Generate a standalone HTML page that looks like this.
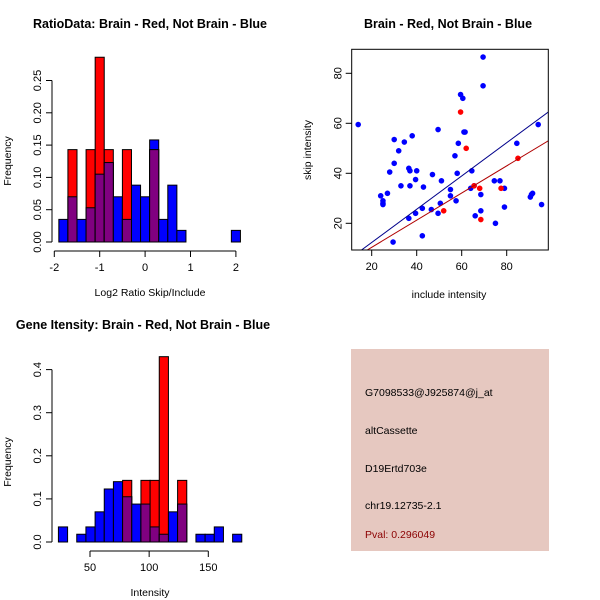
<!DOCTYPE html>
<html><head><meta charset="utf-8"><style>
html,body{margin:0;padding:0;background:#fff}
svg{display:block;font-family:"Liberation Sans",sans-serif}
</style></head><body>
<svg id="c" width="600" height="600" viewBox="0 0 600 600">
<rect width="600" height="600" fill="#fff"/>
<text x="150" y="28" text-anchor="middle" font-size="12.5" font-weight="bold">RatioData: Brain - Red, Not Brain - Blue</text>
<text x="448" y="28" text-anchor="middle" font-size="12.5" font-weight="bold">Brain - Red, Not Brain - Blue</text>
<text x="143" y="329" text-anchor="middle" font-size="12.5" font-weight="bold">Gene Itensity: Brain - Red, Not Brain - Blue</text>
<g id="h1"></g>
<g id="h2"></g>
<g id="sc"></g>
<g>
<rect x="351" y="349" width="198" height="202" fill="#e6c8c0"/>
<text x="365" y="396" font-size="10.5" fill="#000">G7098533@J925874@j_at</text>
<text x="365" y="434" font-size="10.5" fill="#000">altCassette</text>
<text x="365" y="472" font-size="10.5" fill="#000">D19Ertd703e</text>
<text x="365" y="509" font-size="10.5" fill="#000">chr19.12735-2.1</text>
<text x="365" y="538" font-size="10.5" fill="#8b0000">Pval: 0.296049</text>
</g>
</svg>
<script>
// ratio histogram data
const ratioBinStart = -1.9;
const ratioBinWidth = 0.2;
const ratioBlue = [0.035,0.07,0.035,0.053,0.105,0.123,0.07,0.035,0.088,0.07,0.158,0.035,0.088,0.018,0,0,0,0,0,0.018];
const ratioRed  = [0,0.143,0,0.143,0.286,0.143,0,0.143,0,0,0.143,0,0,0,0,0,0,0,0,0];
const ratioXTicks = [-2,-1,0,1,2];
const ratioYTicks = ["0.00","0.05","0.10","0.15","0.20","0.25"];
// intensity histogram data
const intBinStart = 23.3;
const intBinWidth = 7.75;
const intBlue = [0.035,0,0.018,0.035,0.07,0.123,0.14,0.105,0.088,0.088,0.035,0.018,0.07,0.088,0,0.018,0.018,0.035,0,0.018];
const intRed  = [0,0,0,0,0,0,0,0.143,0,0.143,0.143,0.43,0,0.143,0,0,0,0,0,0];
const intXTicks = [50,100,150];
const intYTicks = ["0.0","0.1","0.2","0.3","0.4"];
// scatter data
const blueX = [14,24,25,25,25,27,28,29.5,30,30,32,33,34.5,36.5,37,36.5,37,38,39.5,40,39.5,42.5,43,42.5,46.5,47,49.5,49.5,50.5,51,55,55,57,57.5,58,58.5,59.5,60.5,61,61.5,64,64.5,65.5,66,68.5,68.5,69.5,69.5,74.5,75,77,79,79,84.5,90.5,91,91.5,94,95.5];
const blueY = [59.5,31,29,28,27.5,32,40.5,12.5,53.5,44,49,35,52.5,42,41,22,35,55,37.5,41,24,15,34.5,26,25.5,39.5,57.5,24,28,37,33.5,31,47,29,40,52,71.5,70,56.5,56.5,34,41,35,23,31.5,25,86.5,75,37,20,37,34,26.5,52,30.5,31.5,32,59.5,27.5];
const redX = [59.5,62,52,65.5,68,68.5,77.5,85];
const redY = [64.5,50,25,35,34,21.5,34,46];
const blueFit = [-0.97,0.665];
const redFit = [-0.47,0.543];
const scXTicks = [20,40,60,80];
const scYTicks = [20,40,60,80];

const NS="http://www.w3.org/2000/svg";
function mk(parent,tag,attrs){const e=document.createElementNS(NS,tag);for(const k in attrs)e.setAttribute(k,attrs[k]);parent.appendChild(e);return e;}

function hist(g,o){
  const sx=v=>o.x0px+(v-o.x0)*o.kx, sy=v=>o.y0px-v*o.ky;
  for(let i=0;i<o.blue.length;i++){
    const a=o.binStart+i*o.binW, b=a+o.binW, bl=o.blue[i], rd=o.red[i];
    const x=sx(a), w=sx(b)-sx(a);
    if(bl>0){const r=mk(g,'rect',{x:x,y:sy(bl),width:w,height:sy(0)-sy(bl),fill:'#0000ff',stroke:'#000','stroke-width':1});
      
      }
    if(rd>0){const r=mk(g,'rect',{x:x,y:sy(rd),width:w,height:sy(0)-sy(rd),fill:'#ff0000',stroke:'#000','stroke-width':1});
      
      }
    if(rd>0&&bl>0){const m=Math.min(rd,bl);const r=mk(g,'rect',{x:x,y:sy(m),width:w,height:sy(0)-sy(m),fill:'#800080',stroke:'#000','stroke-width':1});
      
      }
  }
  const yv=o.yTicks.map(Number);
  mk(g,'line',{x1:o.yAxisX,x2:o.yAxisX,y1:sy(yv[0]),y2:sy(yv[yv.length-1]),stroke:'#000'});
  o.yTicks.forEach((t,i)=>{const y=sy(yv[i]);mk(g,'line',{x1:o.yAxisX-6,x2:o.yAxisX,y1:y,y2:y,stroke:'#000'});
    const tx=mk(g,'text',{x:0,y:0,'font-size':11,'text-anchor':'middle',transform:`translate(${o.yAxisX-11},${y}) rotate(-90)`});tx.textContent=t;
    
    });
  const ax=o.xAxisY;
  mk(g,'line',{x1:sx(o.xTicks[0]),x2:sx(o.xTicks[o.xTicks.length-1]),y1:ax,y2:ax,stroke:'#000'});
  o.xTicks.forEach(t=>{const x=sx(t);mk(g,'line',{x1:x,x2:x,y1:ax,y2:ax+6,stroke:'#000'});
    const tx=mk(g,'text',{x:x,y:ax+20,'font-size':11,'text-anchor':'middle'});tx.textContent=t;
    
    });
  const xl=mk(g,'text',{x:o.xLabelX,y:ax+45,'font-size':10.5,'text-anchor':'middle'});xl.textContent=o.xLabel;
  
  
  const yl=mk(g,'text',{x:0,y:0,'font-size':10.5,'text-anchor':'middle',transform:`translate(11,${o.yLabelY}) rotate(-90)`});yl.textContent='Frequency';
  
  
}
hist(document.getElementById('h1'),{x0:-2,x0px:54.3,kx:45.4,y0px:242,ky:646,binStart:ratioBinStart,binW:ratioBinWidth,blue:ratioBlue,red:ratioRed,yTicks:ratioYTicks,xTicks:ratioXTicks,yAxisX:52,xAxisY:251,xLabel:'Log2 Ratio Skip/Include',xLabelX:150,yLabelY:161});
hist(document.getElementById('h2'),{x0:50,x0px:90,kx:1.183,y0px:542,ky:431,binStart:intBinStart,binW:intBinWidth,blue:intBlue,red:intRed,yTicks:intYTicks,xTicks:intXTicks,yAxisX:52,xAxisY:551,xLabel:'Intensity',xLabelX:150,yLabelY:462});

(function(){
  const g=document.getElementById('sc');
  const L=351.7,R=548.3,T=49.3,B=250;
  const sx=u=>371.7+(u-20)*2.25, sy=v=>223.3-(v-20)*2.5;
  const ux=x=>20+(x-371.7)/2.25;
  const clip=mk(mk(g,'defs',{}),'clipPath',{id:'scClip'});mk(clip,'rect',{x:L,y:T,width:R-L,height:B-T});
  const pts=mk(g,'g',{'clip-path':'url(#scClip)'});
  blueX.forEach((x,i)=>{const c=mk(pts,'circle',{cx:sx(x),cy:sy(blueY[i]),r:2.8,fill:'#0000ff'});
    
    });
  redX.forEach((x,i)=>{const c=mk(pts,'circle',{cx:sx(x),cy:sy(redY[i]),r:2.8,fill:'#ff0000'});
    
    });
  const xa=ux(L)-5, xb=ux(R)+5;
  const bl=mk(pts,'line',{x1:sx(xa),y1:sy(blueFit[0]+blueFit[1]*xa),x2:sx(xb),y2:sy(blueFit[0]+blueFit[1]*xb),stroke:'#00008b','stroke-width':1});
  
  
  const rl=mk(pts,'line',{x1:sx(xa),y1:sy(redFit[0]+redFit[1]*xa),x2:sx(xb),y2:sy(redFit[0]+redFit[1]*xb),stroke:'#b00000','stroke-width':1});
  
  
  mk(g,'rect',{x:L,y:T,width:R-L,height:B-T,fill:'none',stroke:'#000'});
  scXTicks.forEach(t=>{const x=sx(t);mk(g,'line',{x1:x,x2:x,y1:B,y2:B+6,stroke:'#000'});
    const tx=mk(g,'text',{x:x,y:B+20,'font-size':11,'text-anchor':'middle'});tx.textContent=t;
    
    });
  scYTicks.forEach(t=>{const y=sy(t);mk(g,'line',{x1:L-6,x2:L,y1:y,y2:y,stroke:'#000'});
    const tx=mk(g,'text',{x:0,y:0,'font-size':11,'text-anchor':'middle',transform:`translate(${L-10},${y}) rotate(-90)`});tx.textContent=t;
    
    });
  const xl=mk(g,'text',{x:449,y:298,'font-size':10.5,'text-anchor':'middle'});xl.textContent='include intensity';
  
  
  const yl=mk(g,'text',{x:0,y:0,'font-size':10.5,'text-anchor':'middle',transform:'translate(311,150) rotate(-90)'});yl.textContent='skip intensity';
  
  
})();
</script>
</body></html>
